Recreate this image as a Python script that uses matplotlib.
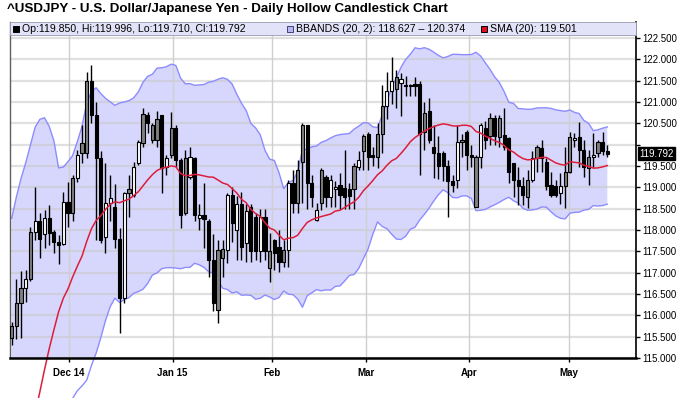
import numpy as np
import matplotlib
matplotlib.use("Agg")
import matplotlib.pyplot as plt
from matplotlib.patches import Rectangle
import matplotlib.transforms as mtransforms

# ---------------- data ----------------
opens = [115.48, 115.75, 116.30, 116.63, 116.84, 117.96, 118.20, 117.90, 118.27, 117.96,
         117.73, 117.68, 118.66, 118.39, 119.21, 119.80, 119.80, 121.48, 120.70, 119.69,
         117.84, 118.63, 118.55, 117.80, 116.40, 118.86, 118.82, 119.56, 120.03, 120.70,
         120.46, 120.10, 120.70, 119.48, 119.76, 120.38, 119.64, 118.39, 119.25, 119.68,
         118.27, 118.35, 118.20, 117.30, 116.12, 117.34, 117.53, 118.82, 118.00, 118.60,
         117.70, 118.55, 118.30, 117.50, 118.30, 117.50, 117.77, 117.60, 117.26, 117.53,
         119.09, 118.63, 119.60, 120.46, 119.09, 118.23, 118.63, 119.25, 118.78, 118.95,
         119.05, 118.98, 118.80, 118.96, 119.48, 119.85, 120.25, 119.70, 119.70, 120.25,
         120.90, 121.25, 121.30, 121.55, 121.40, 121.40, 121.42, 121.42, 120.30, 120.80,
         119.95, 119.80, 119.80, 119.50, 119.15, 119.17, 120.07, 120.30, 119.76, 119.72,
         119.72, 120.40, 120.20, 120.62, 120.19, 120.23, 120.15, 119.56, 119.17, 119.02,
         118.78, 119.17, 119.68, 119.91, 119.60, 119.05, 119.02, 118.86, 119.02, 119.37,
         120.15, 120.19, 119.87, 119.45, 119.72, 119.80, 120.07, 119.850]
highs = [115.85, 116.85, 117.05, 117.06, 118.08, 119.00, 118.40, 118.48, 118.59, 118.00,
         117.88, 118.90, 119.13, 119.29, 119.88, 120.46, 121.71, 121.87, 121.00, 119.84,
         119.56, 119.29, 119.08, 118.04, 118.90, 119.30, 119.60, 120.10, 120.85, 120.77,
         120.50, 120.78, 120.70, 119.76, 120.77, 120.46, 119.68, 119.87, 119.95, 119.72,
         118.60, 119.10, 118.25, 117.90, 117.77, 117.77, 118.86, 119.00, 118.80, 118.90,
         118.60, 118.60, 118.40, 118.50, 118.50, 117.92, 117.80, 118.00, 117.77, 119.17,
         119.40, 119.64, 120.50, 120.46, 119.29, 118.63, 119.45, 119.29, 119.30, 119.15,
         119.33, 119.88, 119.10, 119.57, 119.85, 120.25, 120.30, 119.95, 120.50, 121.40,
         121.70, 122.06, 121.75, 121.67, 121.60, 121.43, 121.58, 121.50, 121.00, 121.10,
         120.45, 120.20, 119.85, 119.65, 119.30, 120.46, 120.25, 120.35, 120.00, 119.76,
         120.50, 120.55, 120.75, 120.70, 120.70, 120.85, 120.19, 119.56, 119.48, 119.25,
         119.41, 119.84, 119.99, 120.11, 119.68, 119.37, 119.17, 119.33, 119.95, 120.30,
         120.27, 120.54, 120.11, 119.87, 120.27, 120.11, 120.30, 119.996]
lows = [115.30, 115.45, 115.47, 116.32, 116.80, 117.77, 117.34, 117.57, 117.65, 117.45,
        117.20, 117.65, 118.08, 118.20, 119.13, 119.56, 119.68, 120.50, 117.77, 117.69,
        117.45, 118.20, 117.57, 115.58, 116.28, 118.30, 118.78, 119.52, 119.95, 120.27,
        120.05, 119.95, 118.86, 119.30, 119.68, 119.48, 118.04, 118.35, 119.20, 118.20,
        118.00, 117.57, 116.90, 116.10, 115.81, 116.90, 117.22, 117.73, 117.30, 117.30,
        117.25, 117.25, 117.30, 117.25, 117.30, 116.79, 117.06, 117.02, 117.14, 117.14,
        118.39, 118.39, 118.63, 118.50, 118.55, 118.20, 118.47, 118.55, 118.55, 118.55,
        118.50, 118.50, 118.50, 118.50, 119.40, 119.40, 119.40, 119.50, 119.45, 119.80,
        120.60, 120.95, 120.85, 120.66, 121.13, 121.14, 121.14, 119.29, 119.88, 120.03,
        119.21, 119.20, 119.15, 118.31, 118.90, 118.98, 119.70, 119.40, 119.48, 118.55,
        119.45, 119.90, 120.00, 120.00, 119.95, 119.87, 119.09, 118.78, 118.59, 118.59,
        118.51, 119.13, 119.37, 119.37, 118.94, 118.78, 118.78, 118.62, 118.51, 119.33,
        119.95, 119.48, 119.25, 119.05, 119.48, 119.72, 119.76, 119.710]
closes = [115.75, 116.28, 116.63, 116.84, 117.96, 118.20, 117.80, 118.27, 117.92, 117.73,
          117.65, 118.66, 118.39, 119.21, 119.76, 120.03, 121.48, 120.70, 119.69, 117.77,
          118.63, 118.74, 117.80, 116.40, 118.86, 118.95, 119.48, 120.07, 120.73, 120.50,
          120.10, 120.60, 119.45, 119.68, 120.38, 119.64, 118.35, 119.68, 119.72, 118.35,
          118.35, 118.25, 117.30, 116.30, 117.53, 117.55, 118.82, 118.16, 118.60, 117.60,
          118.45, 117.50, 117.50, 118.30, 117.50, 117.10, 117.45, 117.26, 117.53, 119.09,
          118.63, 119.41, 120.46, 119.09, 118.78, 118.47, 119.41, 118.78, 119.17, 119.00,
          118.82, 118.78, 118.95, 119.50, 119.65, 120.20, 119.70, 119.75, 120.25, 120.90,
          121.25, 121.50, 121.58, 121.45, 121.37, 121.37, 121.38, 120.25, 120.75, 120.10,
          119.80, 119.50, 119.50, 119.15, 119.05, 120.07, 120.10, 119.76, 119.70, 118.55,
          120.45, 120.10, 120.62, 120.20, 120.62, 119.95, 119.37, 119.17, 119.02, 118.82,
          119.17, 119.68, 119.95, 119.68, 119.02, 118.82, 118.82, 119.02, 119.37, 120.19,
          120.11, 119.87, 119.48, 119.72, 119.76, 120.07, 119.84, 119.792]
# body shade seen on each candle: W hollow, G gray filled, B black filled
body_shade = ("GGGWGWBWBB" "BWBGWGGBBB" "WWBBWGWWGB" "GGBWGBBGWB" "WBBBGGWBWB"
              "WBBWBGBBGW" "BGGBBWGBWW" "BBBGWGBBGG" "WWGWBBBBGB" "BBBBBWGBBG"
              "WBGBGBBBBB" "GWGBBBBWGG" "WBBGWGBB")
# closes before the first visible candle (feed the 20-day indicators)
prior_closes = [106.9, 106.9, 107.2, 107.1, 108.2, 108.1, 107.8, 108.1, 108.9, 109.2,
                112.3, 114.0, 113.6, 114.7, 115.3, 114.6, 114.8, 115.8, 115.5]

month_pos = [12.2, 34.3, 55.5, 75.5, 97.5, 118.8]
month_labels = ["Dec 14", "Jan 15", "Feb", "Mar", "Apr", "May"]
price_ticks = [115.0, 115.5, 116.0, 116.5, 117.0, 117.5, 118.0, 118.5,
               119.0, 119.5, 120.0, 120.5, 121.0, 121.5, 122.0, 122.5]
title = "^USDJPY - U.S. Dollar/Japanese Yen - Daily Hollow Candlestick Chart"
last_price = 119.792
legend_ohlc = "Op:119.850, Hi:119.996, Lo:119.710, Cl:119.792"
legend_bb = "BBANDS (20, 2): 118.627 \u2013 120.374"
legend_sma = "SMA (20): 119.501"

# ---------------- indicators ----------------
allc = np.array(prior_closes + closes)
n = len(closes)
period = 20
sma = np.array([allc[i:i + period].mean() for i in range(n)])
sd = np.array([allc[i:i + period].std() for i in range(n)])
upper = sma + 2 * sd
lower = sma - 2 * sd
x = np.arange(n)

# ---------------- figure ----------------
W, H = 680, 398
fig = plt.figure(figsize=(W / 100, H / 100), dpi=100)
fig.patch.set_facecolor("white")
L, R, T, B = 10, 636, 22, 358
ax = fig.add_axes([L / W, (H - B) / H, (R - L) / W, (B - T) / H])
ymin = 115.0
ppu = 42.67
ymax = ymin + (B - T) / ppu
ax.set_ylim(ymin, ymax)
xl = -0.36
xr = xl + (R - L) / 4.69
ax.set_xlim(xl, xr)

# band fill
ax.fill_between(x, lower, upper, color="#d7d7fd", lw=0, zorder=1)
# grid lines
for p in price_ticks:
    ax.axhline(p, color="#c8c8c8", lw=1.6, alpha=0.55, zorder=1.5)
for m in month_pos:
    ax.axvline(m, color="#cfcfcf", lw=1.0, zorder=1.5)

# band lines and SMA (not clipped, like the source)
ax.plot(x, upper, color="#8c8cff", lw=1.0, zorder=2.5, clip_on=False)
ax.plot(x, lower, color="#8c8cff", lw=1.0, zorder=2.5, clip_on=False)
ax.plot(x, sma, color="#dc1e3c", lw=1.1, zorder=6, clip_on=False)

# candles
shade_colors = {"W": "white", "G": "#808080", "B": "black"}
bw = 0.68
for i in range(n):
    o, h, l, c = opens[i], highs[i], lows[i], closes[i]
    ax.vlines(i, l, h, color="black", lw=1.0, zorder=3)
    fc = shade_colors[body_shade[i]]
    bot = min(o, c)
    ht = max(abs(c - o), 0.02)
    ax.add_patch(Rectangle((i - bw / 2, bot), bw, ht, facecolor=fc,
                           edgecolor="black", lw=0.8, zorder=4))

# axes styling
ax.spines["top"].set_visible(False)
ax.spines["left"].set_color("#606060")
ax.spines["left"].set_linewidth(1.0)
ax.spines["right"].set_color("black")
ax.spines["right"].set_linewidth(1.2)
ax.spines["bottom"].set_color("black")
ax.spines["bottom"].set_linewidth(1.8)
ax.spines["bottom"].set_zorder(7)

ax.yaxis.tick_right()
ax.set_yticks(price_ticks)
ax.set_yticklabels(["" if abs(p - 120.0) < 1e-9 else f"{p:.3f}" for p in price_ticks],
                   fontsize=7, family="Liberation Sans")
ax.tick_params(axis="y", direction="out", length=3, width=1, pad=1.5, color="black")
ax.set_xticks(month_pos)
ax.set_xticklabels(month_labels, fontsize=7, fontweight="bold", family="Liberation Sans")
ax.tick_params(axis="x", direction="out", length=3, width=1, pad=4, color="black")

# last price tag
trans = mtransforms.blended_transform_factory(ax.transAxes, ax.transData)
ax.text(1.0 + 3 / (R - L), last_price, f"{last_price:.3f}", transform=trans,
        fontsize=7, family="Liberation Sans", color="white", va="center", ha="left",
        bbox=dict(boxstyle="square,pad=0.12", fc="black", ec="black"), zorder=10,
        clip_on=False)

# legend strip
def fx(px):
    return px / W

def fy(py):
    return 1 - py / H

fig.patches.append(Rectangle((fx(L), fy(35)), (R - L) / W, 13 / H, transform=fig.transFigure,
                             facecolor="#e2e2f8", edgecolor="#9a9ab0", lw=0.6, zorder=5))
sq = 6
def legend_item(px, color, ec, text):
    fig.patches.append(Rectangle((fx(px), fy(31.5)), sq / W, sq / H, transform=fig.transFigure,
                                 facecolor=color, edgecolor=ec, lw=0.7, zorder=6))
    fig.text(fx(px + sq + 3), fy(28.7), text, fontsize=7.6, family="Liberation Sans",
             va="center", ha="left", zorder=7)

legend_item(13, "black", "black", legend_ohlc)
legend_item(287, "#b8b8f0", "#404080", legend_bb)
legend_item(481, "#e01020", "black", legend_sma)

fig.text(fx(7), fy(9), title, fontsize=9.6, fontweight="bold", family="Liberation Sans",
         va="center", ha="left")

fig.savefig("out.png", dpi=100)
